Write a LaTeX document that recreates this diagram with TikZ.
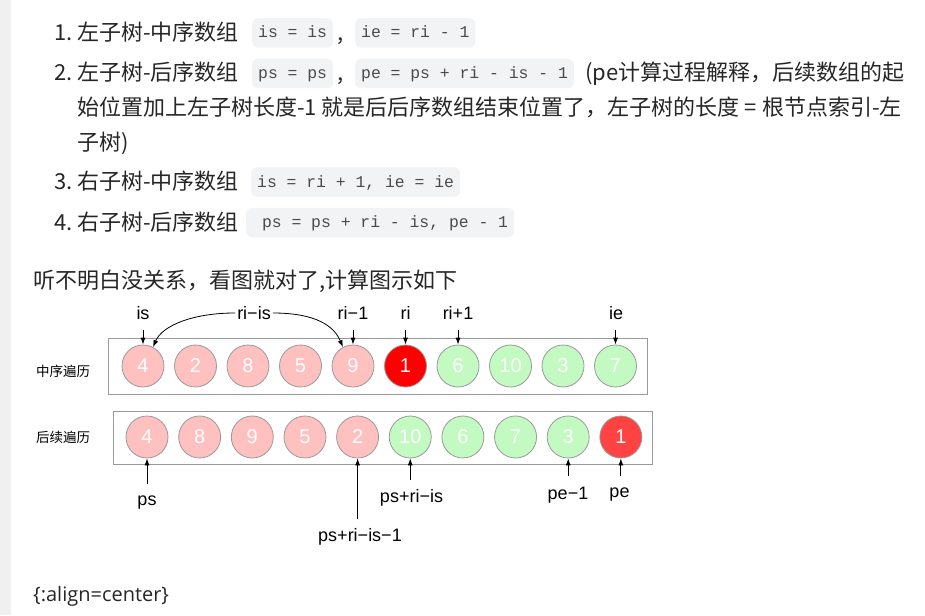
\documentclass[tikz,border=0pt]{standalone}
\usepackage{fontspec}
\setmainfont{Noto Sans CJK SC}
\newfontfamily\diagfont{Liberation Sans}
\newfontfamily\codefont{Liberation Mono}
\newfontfamily\osfont{Open Sans}
\usetikzlibrary{arrows.meta}
\definecolor{maintext}{HTML}{262626}
\definecolor{chipbg}{HTML}{F2F3F5}
\definecolor{chiptext}{HTML}{4A4A4A}
\definecolor{stripbg}{HTML}{F0F0F0}
\definecolor{pinkfill}{HTML}{FFC0C0}
\definecolor{greenfill}{HTML}{C2FAC2}
\definecolor{redA}{HTML}{FF0000}
\definecolor{redB}{HTML}{FF4242}
\definecolor{cstroke}{HTML}{9A9A9A}
\definecolor{boxstroke}{HTML}{999999}
\tikzset{
  txt/.style={anchor=base west, inner sep=0pt, font=\fontsize{22}{26}\selectfont, text=maintext},
  num/.style={anchor=base east, inner sep=0pt, font=\fontsize{22}{26}\selectfont, text=maintext},
  chip/.style={fill=chipbg, rounded corners=6pt, inner xsep=6pt, inner ysep=0pt,
    minimum height=29.5pt, text height=11.5pt, text depth=1.5pt, anchor=west,
    font=\codefont\fontsize{16.4}{18}\selectfont, text=chiptext},
  cnode/.style={circle, minimum size=42pt, inner sep=0pt, draw=cstroke, line width=0.8pt,
    text=white, font=\diagfont\fontsize{20}{22}\selectfont},
  pk/.style={cnode, fill=pinkfill},
  gr/.style={cnode, fill=greenfill},
  rda/.style={cnode, fill=redA},
  rdb/.style={cnode, fill=redB},
  lab/.style={font=\diagfont\fontsize{18}{20}\selectfont, inner sep=2pt, text=black},
  arr/.style={-{Latex[length=7pt,width=5pt]}, line width=0.8pt},
  rowbox/.style={draw=boxstroke, line width=1pt, inner sep=0pt},
  side/.style={font=\fontsize{13.5}{15}\selectfont, text=black},
}
\begin{document}
\begin{tikzpicture}[x=1pt,y=-1pt]
\useasboundingbox (0,0) rectangle (925,615);
\fill[stripbg] (0,0) rectangle (11,615);

% list item 1
\node[num] (n1) at (73,41) {1.};
\node[txt] (t1) at (77,41) {左子树-中序数组};
\node[chip] (c1a) at (252,33) {is = is};
\node[txt] (k1) at (337,41) {,};
\node[chip] (c1b) at (355,33) {ie = ri - 1};

% list item 2
\node[num] (n2) at (73,81) {2.};
\node[txt] (t2) at (77,81) {左子树-后序数组};
\node[chip] (c2a) at (252,73.5) {ps = ps};
\node[txt] (k2) at (337,81) {,};
\node[chip] (c2b) at (355,73.5) {pe = ps + ri - is - 1};
\node[txt] (t2b) at (585,81) {(pe计算过程解释，后续数组的起};
\node[txt] (t2c) at (77,116) {始位置加上左子树长度-1 就是后后序数组结束位置了，左子树的长度 = 根节点索引-左};
\node[txt] (t2d) at (77,150) {子树)};

% list item 3
\node[num] (n3) at (73,189) {3.};
\node[txt] (t3) at (77,189) {右子树-中序数组};
\node[chip] (c3) at (251,182) {is = ri + 1, ie = ie};

% list item 4
\node[num] (n4) at (73,230) {4.};
\node[txt] (t4) at (77,230) {右子树-后序数组};
\node[chip] (c4) at (246,222.5) {\ ps = ps + ri - is, pe - 1};

% paragraph
\node[txt] (p1) at (33,288) {听不明白没关系，看图就对了,计算图示如下};

% row boxes
\node[rowbox, minimum width=539pt, minimum height=56pt] (row1) at (377.5,366) {};
\node[rowbox, minimum width=539pt, minimum height=53pt] (row2) at (382.5,437.5) {};
\node[side] (s1) at (63,371) {中序遍历};
\node[side] (s2) at (63,437) {后续遍历};

% inorder row
\node[pk]  (a1)  at (143,366)   {4};
\node[pk]  (a2)  at (195.5,366) {2};
\node[pk]  (a3)  at (248,366)   {8};
\node[pk]  (a4)  at (300.5,366) {5};
\node[pk]  (a5)  at (353,366)   {9};
\node[rda] (a6)  at (405.5,366) {1};
\node[gr]  (a7)  at (458,366)   {6};
\node[gr]  (a8)  at (510.5,366) {10};
\node[gr]  (a9)  at (563,366)   {3};
\node[gr]  (a10) at (615.5,366) {7};

% postorder row
\node[pk]  (b1)  at (147,437)    {4};
\node[pk]  (b2)  at (199.65,437) {8};
\node[pk]  (b3)  at (252.3,437)  {9};
\node[pk]  (b4)  at (304.95,437) {5};
\node[pk]  (b5)  at (357.6,437)  {2};
\node[gr]  (b6)  at (410.25,437) {10};
\node[gr]  (b7)  at (462.9,437)  {6};
\node[gr]  (b8)  at (515.55,437) {7};
\node[gr]  (b9)  at (568.2,437)  {3};
\node[rdb] (b10) at (620.85,437) {1};

% top labels
\node[lab] (lis)  at (143,313)   {is};
\node[lab] (lris) at (254,313)   {ri−is};
\node[lab] (lri1) at (353,313)   {ri−1};
\node[lab] (lri)  at (405.5,313) {ri};
\node[lab] (lrip) at (458,313)   {ri+1};
\node[lab] (lie)  at (616,313)   {ie};

\coordinate (u1) at (143,330);
\coordinate (u5) at (353,330);
\coordinate (u6) at (405.5,330);
\coordinate (u7) at (458,330);
\coordinate (u10) at (615.5,330);
\draw[arr] (u1) -- (a1.north);
\draw[arr] (u5) -- (a5.north);
\draw[arr] (u6) -- (a6.north);
\draw[arr] (u7) -- (a7.north);
\draw[arr] (u10) -- (a10.north);

\draw[arr] (lris.west) .. controls (192,313) and (162,326) .. (a1.62);
\draw[arr] (lris.east) .. controls (316,313) and (334,326) .. (a5.118);

% bottom labels
\node[lab] (lps)   at (147,503)   {ps};
\node[lab] (lpsr1) at (360,537)   {ps+ri−is−1};
\node[lab] (lpsr)  at (411.5,498) {ps+ri−is};
\node[lab] (lpe1)  at (568,495)   {pe−1};
\node[lab] (lpe)   at (619.5,495) {pe};

\coordinate (d1) at (147,484);
\coordinate (d5) at (357.6,519);
\coordinate (d6) at (410.25,480);
\coordinate (d9) at (568.2,476);
\coordinate (d10) at (620.85,476);
\draw[arr] (d1) -- (b1.south);
\draw[arr] (d5) -- (b5.south);
\draw[arr] (d6) -- (b6.south);
\draw[arr] (d9) -- (b9.south);
\draw[arr] (d10) -- (b10.south);

\node[anchor=base west, inner sep=0pt, font=\osfont\fontsize{20}{24}\selectfont, text=maintext] (foot) at (33,601) {\{:align=center\}};
\end{tikzpicture}
\end{document}
